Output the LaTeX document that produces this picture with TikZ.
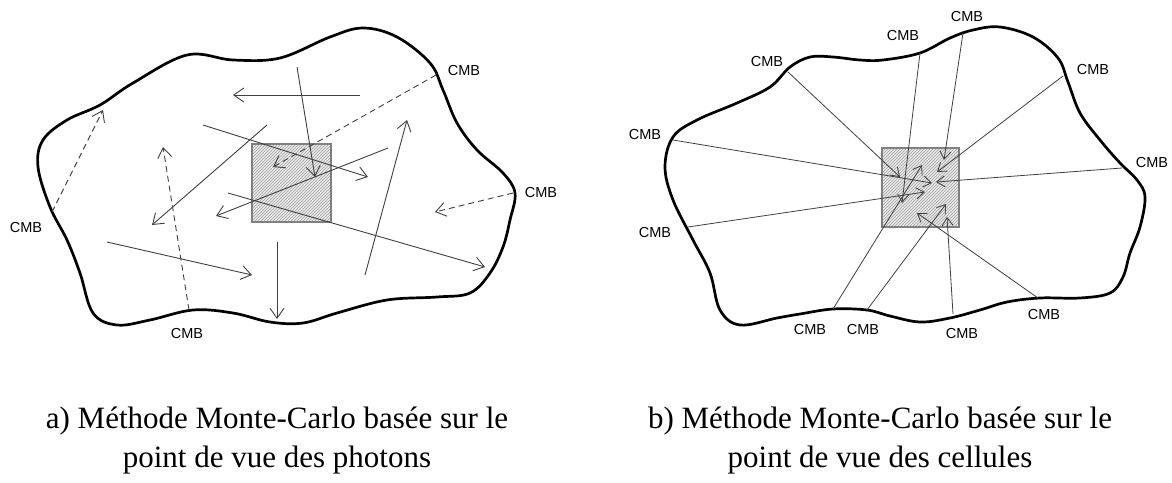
\documentclass[tikz,border=0pt]{standalone}
\usepackage{fontspec}
\setmainfont{Liberation Serif}
\newfontfamily\cmbfont{Liberation Sans}
\usetikzlibrary{arrows.meta,patterns}
\begin{document}
\begin{tikzpicture}[x=1pt,y=-1pt,
  blob/.style={line width=2.7pt, draw=black, line join=round},
  cellfill/.style={fill=black!9},
  cellhatch/.style={pattern=north east lines, pattern color=black!35},
  celledge/.style={draw=black!50, line width=1.2pt},
  ray/.style={draw=black!75, line width=0.9pt, -{Straight Barb[length=10pt,width=14pt]}},
  dray/.style={ray, dash pattern=on 6pt off 4pt},
  sray/.style={draw=black!75, line width=0.8pt, -{Straight Barb[length=8pt,width=11pt]}},
  cmb/.style={font=\cmbfont\fontsize{14.5}{16}\selectfont, inner sep=0pt},
  captext/.style={font=\fontsize{31}{36}\selectfont, inner sep=0pt, anchor=base}]
\useasboundingbox (0,0) rectangle (1172,482);

% ---------- (a) photons ----------
\draw[blob] plot[smooth cycle, tension=0.6] coordinates {
 (363,28) (397,37) (430,63) (443,90) (457,123) (477,150) (503,173) (515,193)
 (510,220) (503,247) (490,273) (470,293) (437,297) (387,300) (337,313) (303,323)
 (270,322) (233,313) (193,310) (150,320) (117,325) (93,313) (80,273) (67,240)
 (50,207) (38,167) (43,140) (67,120) (100,105) (133,83) (187,55) (233,60)
 (280,58) (330,37)};
\fill[cellfill] (252,144) rectangle (331,222);
\fill[cellhatch] (252,144) rectangle (331,222);
\draw[celledge] (252,144) rectangle (331,222);

\coordinate (a1s) at (360,95);  \coordinate (a1e) at (233,95);
\coordinate (a2s) at (297,67);  \coordinate (a2e) at (315,177);
\coordinate (a3s) at (436,75);  \coordinate (a3e) at (273,167);
\coordinate (a4s) at (203,125); \coordinate (a4e) at (368,177);
\coordinate (a5s) at (267,125); \coordinate (a5e) at (152,225);
\coordinate (a6s) at (388,148); \coordinate (a6e) at (216,216);
\coordinate (a7s) at (228,193); \coordinate (a7e) at (485,267);
\coordinate (a8s) at (365,275); \coordinate (a8e) at (407,120);
\coordinate (a9s) at (513,193); \coordinate (a9e) at (435,212);
\coordinate (a10s) at (277,242); \coordinate (a10e) at (277,319);
\coordinate (a11s) at (107,242); \coordinate (a11e) at (252,275);
\coordinate (a12s) at (189,310); \coordinate (a12e) at (163,147);
\coordinate (a13s) at (52,212);  \coordinate (a13e) at (103,110);

\draw[ray] (a1s) -- (a1e);
\draw[ray] (a2s) -- (a2e);
\draw[dray] (a3s) -- (a3e);
\draw[ray] (a4s) -- (a4e);
\draw[ray] (a5s) -- (a5e);
\draw[ray] (a6s) -- (a6e);
\draw[ray] (a7s) -- (a7e);
\draw[ray] (a8s) -- (a8e);
\draw[dray] (a9s) -- (a9e);
\draw[ray] (a10s) -- (a10e);
\draw[ray] (a11s) -- (a11e);
\draw[dray] (a12s) -- (a12e);
\draw[dray] (a13s) -- (a13e);

\node[cmb] (ca1) at (26,228) {CMB};
\node[cmb] (ca2) at (187,334) {CMB};
\node[cmb] (ca3) at (464,71) {CMB};
\node[cmb] (ca4) at (541,193) {CMB};

% ---------- (b) cells ----------
\draw[blob] plot[smooth cycle, tension=0.6] coordinates {
 (673,137) (697,120) (737,103) (770,87) (790,67) (810,57) (833,57) (860,60)
 (883,60) (920,53) (950,38) (973,30) (1000,27) (1033,37) (1058,58) (1068,82)
 (1080,113) (1100,140) (1120,163) (1137,180) (1145,197) (1140,227) (1130,253)
 (1123,277) (1110,293) (1080,298) (1040,298) (1007,302) (980,310) (950,318)
 (920,322) (890,316) (867,310) (833,309) (800,314) (777,318) (740,325)
 (720,310) (710,273) (693,240) (673,200) (665,167)};
\fill[cellfill] (882,148) rectangle (959,227);
\fill[cellhatch] (882,148) rectangle (959,227);
\draw[celledge] (882,148) rectangle (959,227);

\coordinate (b1s) at (788,72);   \coordinate (b1e) at (900,177);
\coordinate (b2s) at (673,140);  \coordinate (b2e) at (932,183);
\coordinate (b3s) at (688,227);  \coordinate (b3e) at (925,192);
\coordinate (b4s) at (920,53);   \coordinate (b4e) at (902,203);
\coordinate (b5s) at (963,33);   \coordinate (b5e) at (944,160);
\coordinate (b6s) at (1063,76);  \coordinate (b6e) at (937,172);
\coordinate (b7s) at (1122,168); \coordinate (b7e) at (936,182);
\coordinate (b8s) at (1038,298); \coordinate (b8e) at (917,213);
\coordinate (b9s) at (953,314);  \coordinate (b9e) at (947,217);
\coordinate (b10s) at (867,310); \coordinate (b10e) at (946,204);
\coordinate (b11s) at (833,309); \coordinate (b11e) at (922,165);

\foreach \i in {1,...,11} {\draw[sray] (b\i s) -- (b\i e);}

\node[cmb] (cb1) at (767,62) {CMB};
\node[cmb] (cb2) at (645,135) {CMB};
\node[cmb] (cb3) at (655,233) {CMB};
\node[cmb] (cb4) at (810,330) {CMB};
\node[cmb] (cb5) at (863,330) {CMB};
\node[cmb] (cb6) at (962,334) {CMB};
\node[cmb] (cb7) at (1044,315) {CMB};
\node[cmb] (cb8) at (1152,163) {CMB};
\node[cmb] (cb9) at (1093,70) {CMB};
\node[cmb] (cb10) at (967,17) {CMB};
\node[cmb] (cb11) at (903,36) {CMB};

% ---------- captions ----------
\node[captext] (capa1) at (277,428) {a) Méthode Monte-Carlo basée sur le};
\node[captext] (capa2) at (277,467) {point de vue des photons};
\node[captext] (capb1) at (880,428) {b) Méthode Monte-Carlo basée sur le};
\node[captext] (capb2) at (880,467) {point de vue des cellules};
\end{tikzpicture}
\end{document}
